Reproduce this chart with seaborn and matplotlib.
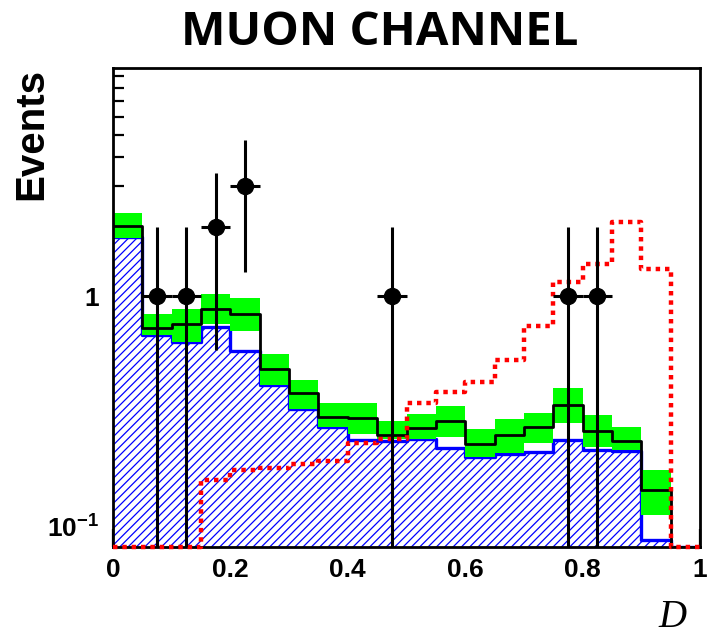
import numpy as np
import pandas as pd
import matplotlib
matplotlib.use("Agg")
import matplotlib.pyplot as plt
import matplotlib.ticker as mticker
import seaborn as sns

# bin edges of the discriminant D (20 bins of 0.05)
edges = np.linspace(0, 1, 21)
centers = 0.5 * (edges[:-1] + edges[1:])

# background (blue hatched) per bin
bkg_main = [1.80, 0.678, 0.634, 0.736, 0.578, 0.411, 0.323, 0.270, 0.237, 0.235,
            0.241, 0.220, 0.200, 0.207, 0.211, 0.238, 0.216, 0.213, 0.0875, 0.0]
# total expectation (black line) and its uncertainty band (green)
bkg_total = [2.02, 0.729, 0.761, 0.884, 0.841, 0.481, 0.379, 0.300, 0.296, 0.250,
             0.267, 0.287, 0.228, 0.250, 0.270, 0.339, 0.261, 0.236, 0.144, 0.0]
band_lo = [1.78, 0.676, 0.634, 0.761, 0.707, 0.411, 0.323, 0.270, 0.252, 0.240,
           0.241, 0.244, 0.200, 0.208, 0.230, 0.281, 0.222, 0.216, 0.112, np.nan]
band_hi = [2.30, 0.836, 0.884, 1.017, 0.977, 0.559, 0.435, 0.345, 0.343, 0.288,
           0.308, 0.334, 0.265, 0.292, 0.313, 0.398, 0.304, 0.270, 0.177, np.nan]
# signal (red dotted)
signal = [0.0, 0.0, 0.0, 0.159, 0.177, 0.180, 0.188, 0.192, 0.231, 0.240,
          0.345, 0.385, 0.424, 0.531, 0.743, 1.15, 1.38, 2.10, 1.31, 0.0]
# observed events
data = [0, 1, 1, 2, 3, 0, 0, 0, 0, 1, 0, 0, 0, 0, 0, 1, 1, 0, 0, 0]

ymin, ymax = 0.082, 9.8

sns.set_style("ticks")
plt.rcParams['font.family'] = ['Liberation Sans', 'DejaVu Sans']
plt.rcParams['font.weight'] = 'bold'
plt.rcParams['text.color'] = 'black'
plt.rcParams['xtick.color'] = 'black'
plt.rcParams['ytick.color'] = 'black'
plt.rcParams['axes.edgecolor'] = 'black'
plt.rcParams['mathtext.fontset'] = 'custom'
plt.rcParams['mathtext.rm'] = 'Liberation Sans:bold'
plt.rcParams['mathtext.it'] = 'Liberation Sans:bold'
plt.rcParams['mathtext.bf'] = 'Liberation Sans:bold'
plt.rcParams['hatch.linewidth'] = 0.9

fig = plt.figure(figsize=(7.09, 6.35), dpi=100)
ax = fig.add_axes([0.1594, 0.139, 0.8279, 0.7547])
ax.set_yscale('log')


def step_y(vals):
    v = np.clip(np.nan_to_num(np.asarray(vals, dtype=float)), ymin, None)
    return np.append(v, v[-1])


# hatched background
ax.fill_between(edges, step_y(bkg_main), 1e-3, step='post', facecolor='white',
                edgecolor='#0000ff', hatch='////', linewidth=0, zorder=1)

steps = pd.DataFrame({'D': edges, 'bkg': step_y(bkg_main),
                      'tot': step_y(bkg_total), 'sig': step_y(signal)})
sns.lineplot(data=steps, x='D', y='bkg', drawstyle='steps-post', color='#0000ff',
             lw=2.4, ax=ax, zorder=2)

# uncertainty band
lo = np.array(band_lo)
hi = np.array(band_hi)
ax.bar(centers, hi - lo, bottom=lo, width=0.05, color='#00ff00', lw=0, zorder=3)

sns.lineplot(data=steps, x='D', y='tot', drawstyle='steps-post', color='black',
             lw=2.0, ax=ax, zorder=4)
sig_line = sns.lineplot(data=steps, x='D', y='sig', drawstyle='steps-post', color='#ff0000',
                        lw=3.2, ls=(0, (1, 1.1)), ax=ax, zorder=11).lines[-1]
sig_line.set_clip_on(False)

# data points with sqrt(N) errors
d = np.array(data, dtype=float)
m = d > 0
ax.errorbar(centers[m], d[m], xerr=0.025,
            yerr=[np.minimum(np.sqrt(d[m]), d[m] - 1e-4), np.sqrt(d[m])],
            fmt='o', color='black', ms=11.5, elinewidth=2.2, capsize=0, zorder=12)

ax.set_xlim(0, 1)
ax.set_ylim(ymin, ymax)
ax.set_xlabel('')
ax.set_ylabel('')

ax.xaxis.set_major_locator(mticker.FixedLocator([0, 0.2, 0.4, 0.6, 0.8, 1.0]))
ax.set_xticklabels(['0', '0.2', '0.4', '0.6', '0.8', '1'])
ax.xaxis.set_minor_locator(mticker.MultipleLocator(0.1))
ax.yaxis.set_major_locator(mticker.FixedLocator([0.1, 1]))
ax.set_yticklabels([r'10$^{\mathbf{-1}}$', '1'])
ax.yaxis.set_minor_locator(mticker.LogLocator(subs=np.arange(2, 10)))
ax.yaxis.set_minor_formatter(mticker.NullFormatter())

ax.tick_params(axis='x', which='major', direction='in', length=13, width=1.6,
               labelsize=19, pad=8, top=False)
ax.tick_params(axis='x', which='minor', direction='in', length=6, width=1.6, top=False)
ax.tick_params(axis='y', which='major', direction='in', length=16, width=1.6,
               labelsize=19, pad=10, right=False)
ax.tick_params(axis='y', which='minor', direction='in', length=8, width=1.6, right=False)
for s in ax.spines.values():
    s.set_linewidth(2.0)
    s.set_zorder(10)

fig.text(0.535, 0.929, 'MUON CHANNEL', ha='center', va='baseline', fontsize=34,
         fontweight='bold', family=['Open Sans', 'DejaVu Sans'])
fig.text(0.044, 0.893, 'Events', rotation=90, ha='center', va='top', fontsize=29,
         fontweight='bold')
fig.text(0.948, 0.027, 'D', ha='center', va='center', fontsize=28,
         fontstyle='italic', fontweight='normal', family=['Liberation Serif', 'DejaVu Serif'])

fig.savefig('out.png', dpi=100)
